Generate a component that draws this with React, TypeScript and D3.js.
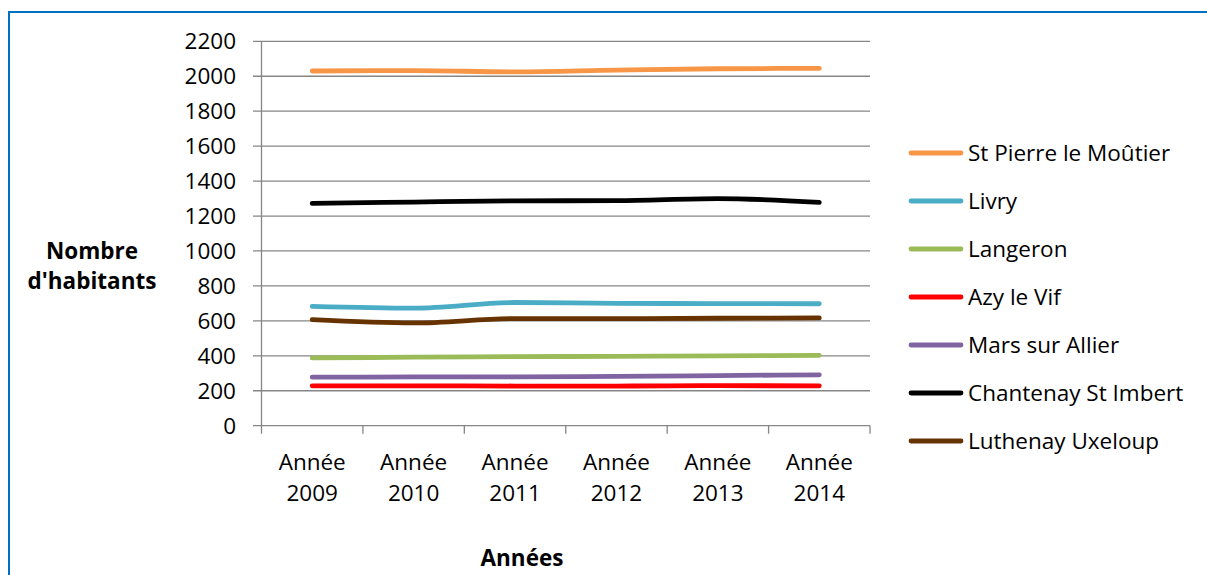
import React from "react";
import * as d3 from "d3";

const categories = ["2009", "2010", "2011", "2012", "2013", "2014"];
const seriesNames = [
  "St Pierre le Moûtier",
  "Livry",
  "Langeron",
  "Azy le Vif",
  "Mars sur Allier",
  "Chantenay St Imbert",
  "Luthenay Uxeloup",
];
const stPierre = [2030, 2032, 2025, 2035, 2043, 2045];
const livry = [683, 673, 705, 700, 699, 698];
const langeron = [388, 392, 395, 397, 400, 403];
const azy = [228, 228, 227, 227, 229, 228];
const mars = [278, 279, 280, 282, 287, 291];
const chantenay = [1272, 1280, 1287, 1288, 1300, 1278];
const luthenay = [607, 588, 613, 613, 615, 617];
const seriesValues = [stPierre, livry, langeron, azy, mars, chantenay, luthenay];
const seriesColors = ["#F79646", "#4BACC6", "#9BBB59", "#FF0000", "#8064A2", "#000000", "#663300"];
const yTicks = [0, 200, 400, 600, 800, 1000, 1200, 1400, 1600, 1800, 2000, 2200];

const FONT = "'Open Sans', sans-serif";

export default function App() {
  const left = 261.5, right = 870, top = 41.3, bottom = 425.7;
  const x = d3.scaleBand<string>().domain(categories).range([left, right]);
  const y = d3.scaleLinear().domain([0, 2200]).range([bottom, top]);
  const cx = (c: string) => (x(c) as number) + x.bandwidth() / 2;
  const line = d3
    .line<number>()
    .x((_, i) => cx(categories[i]))
    .y((v) => y(v))
    .curve(d3.curveMonotoneX);
  const grid = "#868686";
  const legendY = d3.scaleLinear().domain([0, 1]).range([153, 201]);

  return (
    <svg
      width={1207}
      height={575}
      style={{ position: "absolute", left: 0, top: 0, background: "#fff" }}
      fontFamily={FONT}
    >
      <rect x={0} y={0} width={1207} height={575} fill="#fff" />
      <line x1={9} y1={11} x2={9} y2={575} stroke="#0070C0" strokeWidth={2} />
      <line x1={8} y1={12} x2={1207} y2={12} stroke="#0070C0" strokeWidth={2} />
      {yTicks.map((t) => (
        <g key={t}>
          <line x1={253} x2={right} y1={y(t)} y2={y(t)} stroke={grid} strokeWidth={1.3} />
          <text x={236} y={y(t) + 8} textAnchor="end" fontSize={22.5} fill="#000">
            {t}
          </text>
        </g>
      ))}
      <line x1={left} x2={left} y1={top} y2={bottom + 8} stroke={grid} strokeWidth={1.3} />
      {categories.map((c) => (
        <line
          key={"t" + c}
          x1={(x(c) as number) + x.bandwidth()}
          x2={(x(c) as number) + x.bandwidth()}
          y1={bottom}
          y2={bottom + 8}
          stroke={grid}
          strokeWidth={1.3}
        />
      ))}
      {categories.map((c) => (
        <text key={"l" + c} textAnchor="middle" fontSize={22.5} fill="#000">
          <tspan x={cx(c)} y={470}>Année</tspan>
          <tspan x={cx(c)} y={501}>{c}</tspan>
        </text>
      ))}
      {seriesValues.map((vals, i) => (
        <path
          key={"s" + i}
          d={line(vals) || ""}
          fill="none"
          stroke={seriesColors[i]}
          strokeWidth={4.8}
          strokeLinecap="round"
          strokeLinejoin="round"
        />
      ))}
      {seriesNames.map((n, i) => (
        <g key={"lg" + i}>
          <line
            x1={911}
            x2={961}
            y1={legendY(i)}
            y2={legendY(i)}
            stroke={seriesColors[i]}
            strokeWidth={4.8}
            strokeLinecap="round"
          />
          <text x={968} y={legendY(i) + 8} fontSize={22.5} fill="#000">
            {n}
          </text>
        </g>
      ))}
      <text textAnchor="middle" fontSize={22.5} fontWeight="bold" fill="#000">
        <tspan x={92} y={259}>Nombre</tspan>
        <tspan x={92} y={289}>d'habitants</tspan>
      </text>
      <text x={522} y={566} textAnchor="middle" fontSize={22.5} fontWeight="bold" fill="#000">
        Années
      </text>
    </svg>
  );
}
